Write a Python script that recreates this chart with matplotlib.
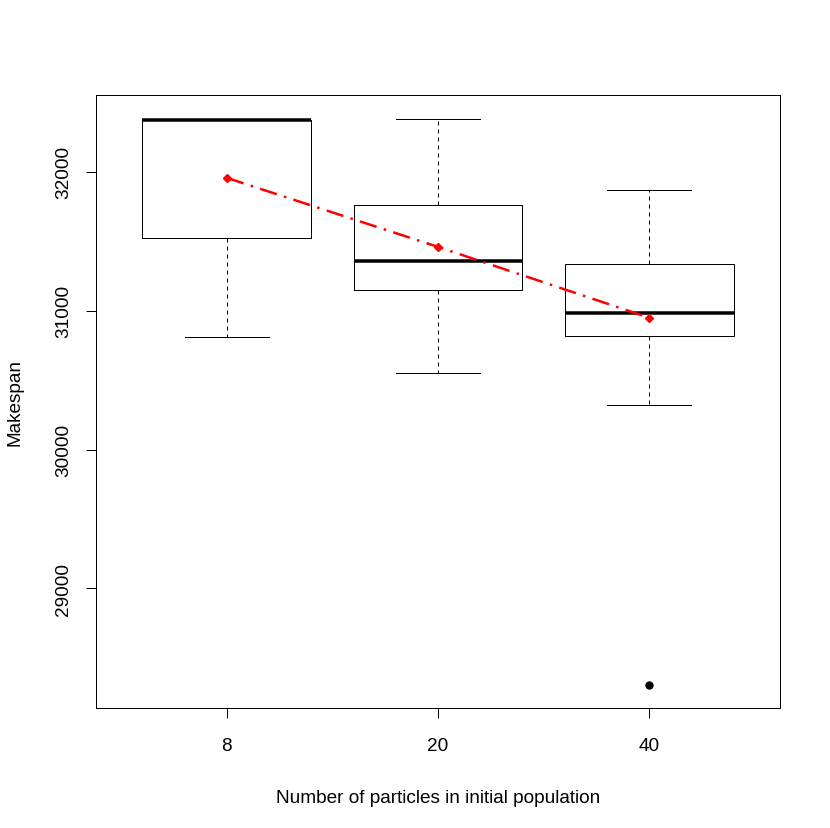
import matplotlib
matplotlib.use("Agg")
import matplotlib.pyplot as plt

plt.rcParams['font.family'] = ['Liberation Sans', 'DejaVu Sans']

categories = ["8", "20", "40"]
whislo = [30813, 30554, 30324]
q1 = [31525, 31151, 30820]
med = [32374, 31360, 30986]
q3 = [32374, 31763, 31338]
whishi = [32374, 32381, 31871]
fliers = [[], [], [28302]]
means = [31957, 31460, 30950]

PX = 0.72  # points per pixel at 100 dpi
fig = plt.figure(figsize=(8.30, 8.29), dpi=100)
W, H = 830, 829
ax = fig.add_axes([96 / W, 1 - 709 / H, (780 - 96) / W, (709 - 96) / H])

stats = []
for i in range(len(categories)):
    stats.append(dict(med=med[i], q1=q1[i], q3=q3[i], whislo=whislo[i],
                      whishi=whishi[i], fliers=fliers[i], label=categories[i]))

pos = list(range(1, len(categories) + 1))
ax.bxp(stats, positions=pos, widths=0.8, showfliers=True,
       boxprops=dict(color='black', linewidth=1 * PX),
       medianprops=dict(color='black', linewidth=3.5 * PX, solid_capstyle='butt'),
       whiskerprops=dict(color='black', linewidth=1 * PX, linestyle=(0, (4, 4))),
       capprops=dict(color='black', linewidth=1 * PX),
       capwidths=0.4,
       flierprops=dict(marker='o', markerfacecolor='black', markeredgecolor='black',
                       markersize=5, linestyle='none'))

ax.plot(pos, means, color='red', linewidth=2.5 * PX,
        linestyle=(0, (7, 3, 1, 3)), marker='D', markersize=4.5,
        markerfacecolor='red', markeredgecolor='red', zorder=5)

ax.set_xlim(0.38, 3.62)
ax.set_ylim(28139, 32554)
ax.set_xticks(pos)
ax.set_xticklabels(categories)
ax.set_yticks([29000, 30000, 31000, 32000])
ax.set_yticklabels(["29000", "30000", "31000", "32000"], rotation=90, va='center')

FS = 13.7
for s in ax.spines.values():
    s.set_linewidth(1 * PX)
ax.tick_params(axis='both', length=10 * PX, width=1 * PX, labelsize=FS)
ax.tick_params(axis='x', pad=19 * PX)
ax.tick_params(axis='y', pad=14 * PX)

ax.set_xlabel("Number of particles in initial population", fontsize=FS, labelpad=35 * PX)
ax.set_ylabel("Makespan", fontsize=FS, labelpad=32 * PX)

fig.savefig("out.png", dpi=100)
